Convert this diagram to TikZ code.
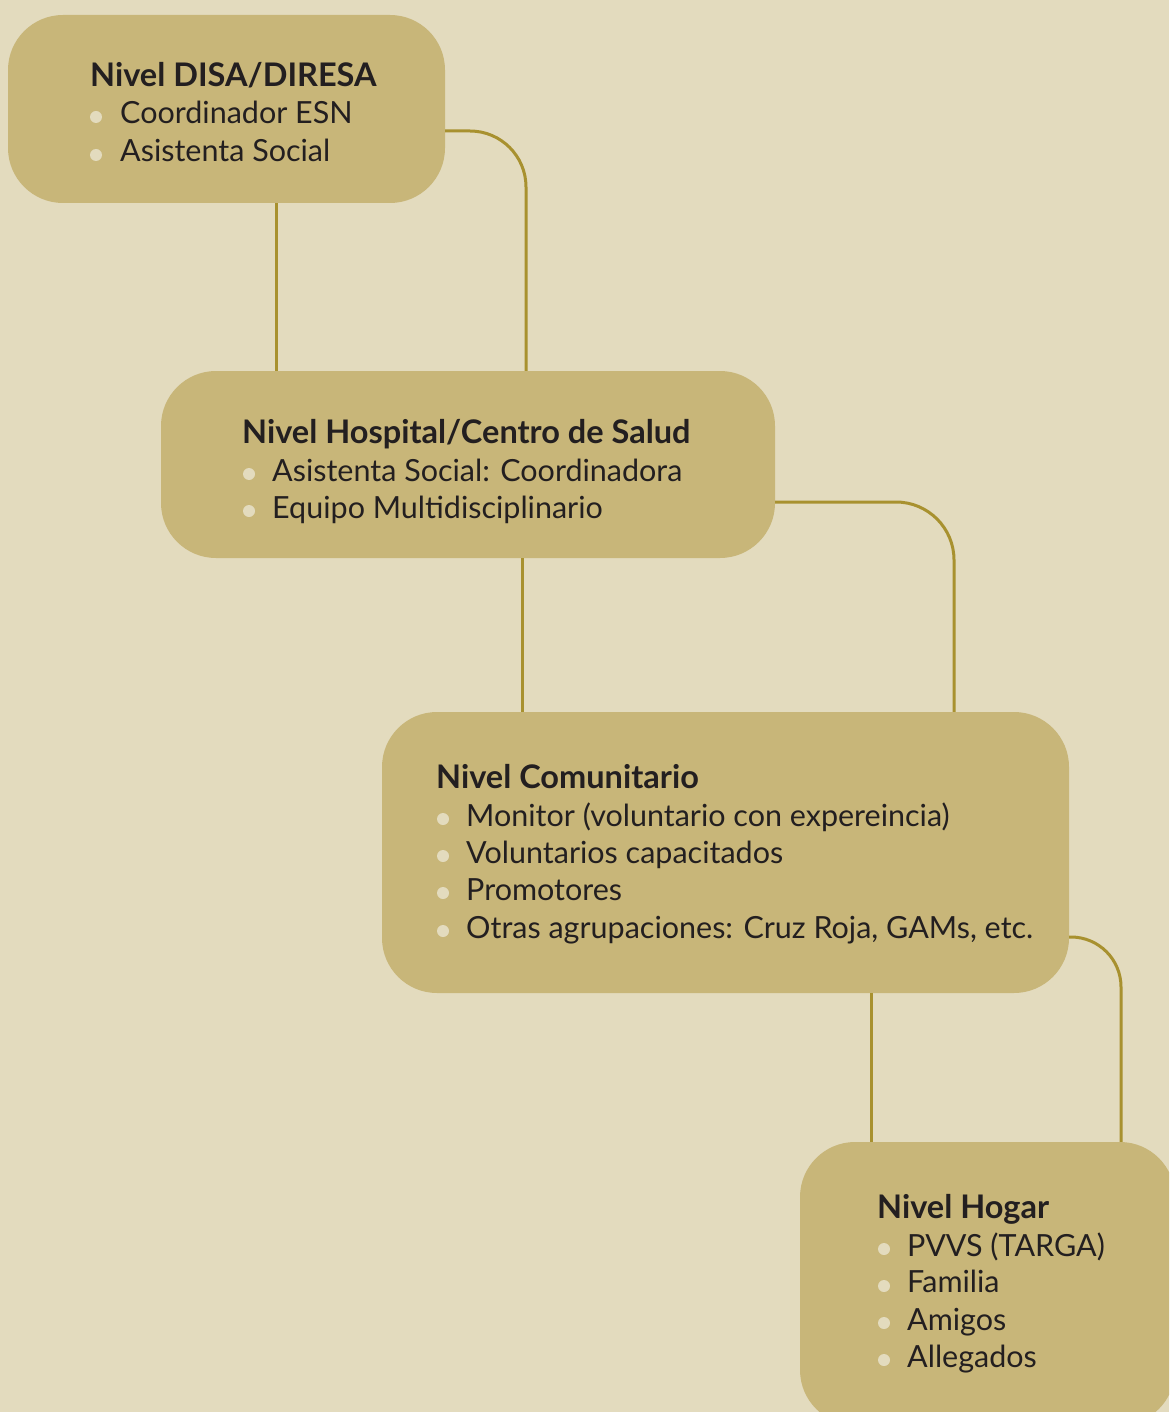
\documentclass[tikz,border=0pt]{standalone}
\usepackage{fontspec}
\setmainfont{Lato}
\definecolor{bgc}{HTML}{E3DBBE}
\definecolor{boxc}{HTML}{C8B679}
\definecolor{linec}{HTML}{A8912F}
\definecolor{txtc}{HTML}{231F20}
\begin{document}
\begin{tikzpicture}[x=1pt,y=-1pt,
  box/.style={fill=boxc, rounded corners=55pt, inner sep=0pt},
  conn/.style={draw=linec, line width=3pt},
  title/.style={anchor=base west, inner sep=0pt, text=txtc, font=\fontsize{32.5}{38}\selectfont\bfseries},
  item/.style={anchor=base west, inner sep=0pt, text=txtc, font=\fontsize{30.5}{36}\selectfont},
  dot/.style={circle, fill=bgc, minimum size=12pt, inner sep=0pt}]
\useasboundingbox (0,0) rectangle (1169,1412);
\clip (0,0) rectangle (1169,1412);
\fill[bgc] (0,0) rectangle (1169,1412);
% boxes
\node[box, minimum width=437pt, minimum height=188pt] (b1) at (226.5,109) {};
\node[box, minimum width=614pt, minimum height=187pt] (b2) at (468,464.5) {};
\node[box, minimum width=687pt, minimum height=281pt] (b3) at (725.5,852.5) {};
\node[box, minimum width=375pt, minimum height=283pt] (b4) at (987.5,1283.5) {};
% connectors
\draw[conn] ([xshift=49.5pt]b1.south) -- ([xshift=-192pt]b2.north);
\draw[conn, rounded corners=56pt] ([yshift=-22pt]b1.east) -| ([xshift=58pt]b2.north);
\draw[conn] ([xshift=54pt]b2.south) -- ([xshift=-203.5pt]b3.north);
\draw[conn, rounded corners=58pt] ([yshift=-37.5pt]b2.east) -| ([xshift=228.5pt]b3.north);
\draw[conn] ([xshift=145.5pt]b3.south) -- ([xshift=-116.5pt]b4.north);
\draw[conn, rounded corners=50pt] ([yshift=-84.5pt]b3.east) -| ([xshift=133.5pt]b4.north);
% box 1 text
\node[title] (t1) at (90,87) {Nivel DISA/DIRESA};
\node[dot] (d11) at (96,117) {};
\node[item] (i11) at (120,124) {Coordinador ESN};
\node[dot] (d12) at (96,155) {};
\node[item] (i12) at (120,162) {Asistenta Social};
% box 2 text
\node[title] (t2) at (242,443) {Nivel Hospital/Centro de Salud};
\node[dot] (d21) at (249,474) {};
\node[item] (i21) at (272,481) {Asistenta Social: Coordinadora};
\node[dot] (d22) at (249,511) {};
\node[item] (i22) at (272,518) {Equipo Multidisciplinario};
% box 3 text
\node[title] (t3) at (436,788) {Nivel Comunitario};
\node[dot] (d31) at (443,819) {};
\node[item] (i31) at (466,826) {Monitor (voluntario con expereincia)};
\node[dot] (d32) at (443,856) {};
\node[item] (i32) at (466,863) {Voluntarios capacitados};
\node[dot] (d33) at (443,893) {};
\node[item] (i33) at (466,900) {Promotores};
\node[dot] (d34) at (443,931) {};
\node[item] (i34) at (466,938) {Otras agrupaciones: Cruz Roja, GAMs, etc.};
% box 4 text
\node[title] (t4) at (877,1218) {Nivel Hogar};
\node[dot] (d41) at (884,1249) {};
\node[item] (i41) at (907,1256) {PVVS (TARGA)};
\node[dot] (d42) at (884,1286) {};
\node[item] (i42) at (907,1292) {Familia};
\node[dot] (d43) at (884,1323) {};
\node[item] (i43) at (907,1330) {Amigos};
\node[dot] (d44) at (884,1360) {};
\node[item] (i44) at (907,1367) {Allegados};
\end{tikzpicture}
\end{document}
